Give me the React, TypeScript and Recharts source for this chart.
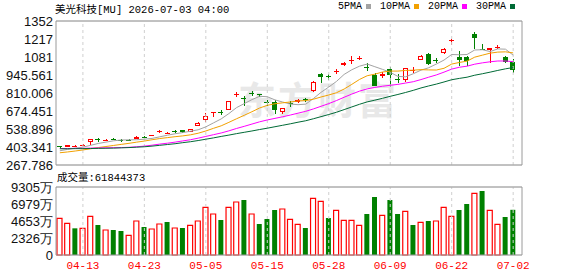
import React from "react";
import {
  ComposedChart,
  Bar,
  Line,
  XAxis,
  YAxis,
  CartesianGrid,
  ReferenceLine,
  Cell,
} from "recharts";

// trading days shown on the chart
const dates = [
  "04-08", "04-09", "04-10", "04-13", "04-14", "04-15", "04-16", "04-17",
  "04-20", "04-21", "04-22", "04-23", "04-24", "04-27", "04-28", "04-29",
  "04-30", "05-01", "05-04", "05-05", "05-06", "05-07", "05-08", "05-11",
  "05-12", "05-13", "05-14", "05-15", "05-18", "05-19", "05-20", "05-21",
  "05-22", "05-26", "05-27", "05-28", "05-29", "06-01", "06-02", "06-03",
  "06-04", "06-05", "06-08", "06-09", "06-10", "06-11", "06-12", "06-15",
  "06-16", "06-17", "06-18", "06-22", "06-23", "06-24", "06-25", "06-26",
  "06-29", "06-30", "07-01", "07-02",
];

const opens = [409, 406, 412, 412, 438, 460, 452, 462, 458, 455, 465, 480, 488, 514, 502, 524, 529, 519, 564, 609, 661, 668, 683, 795, 770, 812, 800, 740, 744, 668, 732, 740, 762, 822, 955, 935, 970, 1022, 1048, 1068, 1008, 946, 940, 988, 912, 910, 978, 1061, 1104, 1062, 1111, 1198, 1082, 1084, 1255, 1145, 1136, 1150, 1084, 1040];
const highs = [412, 418, 418, 426, 465, 471, 464, 473, 466, 462, 486, 486, 495, 530, 514, 530, 533, 542, 590, 657, 667, 682, 752, 820, 787, 825, 805, 760, 758, 697, 750, 765, 775, 900, 963, 953, 990, 1045, 1085, 1090, 1038, 960, 970, 1008, 953, 1000, 1008, 1095, 1112, 1070, 1150, 1214, 1130, 1090, 1268, 1180, 1150, 1168, 1092, 1066];
const lows = [396, 400, 411, 408, 421, 438, 446, 453, 444, 447, 460, 468, 484, 510, 498, 512, 512, 515, 558, 594, 630, 644, 680, 778, 712, 790, 780, 715, 652, 652, 705, 735, 745, 815, 888, 908, 955, 1015, 1030, 1055, 978, 862, 920, 853, 883, 895, 963, 1055, 1020, 1035, 1105, 1171, 1015, 1011, 1142, 1136, 1036, 1140, 1036, 958];
const closes = [404, 416, 414, 420, 462, 456, 458, 456, 447, 451, 480, 476, 491, 526, 511, 521, 516, 539, 582, 637, 665, 662, 748, 800, 765, 808, 795, 735, 684, 694, 727, 760, 757, 893, 930, 928, 976, 1038, 1062, 1071, 1002, 866, 950, 943, 908, 995, 983, 1088, 1026, 1050, 1141, 1212, 1060, 1054, 1224, 1138, 1148, 1158, 1045, 980];

const ma5 = [375, 385, 395, 402, 416, 430, 440, 450, 456, 457, 458, 462, 468, 480, 492, 503, 512, 522, 533, 555, 585, 615, 655, 700, 730, 760, 785, 782, 758, 742, 727, 722, 726, 768, 815, 855, 897, 950, 985, 1012, 1028, 1008, 988, 966, 935, 932, 955, 982, 1000, 1028, 1058, 1100, 1098, 1100, 1134, 1136, 1122, 1142, 1140, 1095];
const ma10 = [360, 366, 373, 381, 390, 399, 407, 415, 423, 431, 440, 448, 458, 467, 474, 481, 487, 495, 507, 524, 544, 563, 589, 616, 642, 669, 697, 717, 729, 736, 742, 750, 753, 763, 780, 795, 812, 840, 875, 912, 940, 952, 968, 975, 975, 980, 982, 986, 984, 983, 996, 1028, 1040, 1050, 1080, 1095, 1110, 1118, 1120, 1112];
const ma20 = [392, 392, 393, 393, 395, 396, 397, 398, 399, 401, 405, 410, 417, 425, 432, 440, 449, 458, 470, 483, 496, 509, 525, 543, 559, 576, 593, 607, 619, 631, 644, 658, 672, 690, 710, 730, 753, 778, 802, 824, 841, 852, 861, 868, 875, 885, 895, 911, 929, 946, 967, 990, 1004, 1012, 1027, 1037, 1045, 1051, 1051, 1046];
const ma30 = [390, 390, 391, 391, 392, 393, 394, 395, 397, 399, 402, 405, 410, 416, 422, 428, 436, 443, 452, 462, 472, 483, 493, 504, 514, 524, 535, 545, 556, 567, 578, 590, 601, 616, 632, 648, 665, 685, 705, 725, 743, 756, 770, 785, 799, 814, 830, 848, 863, 877, 893, 910, 920, 929, 944, 955, 967, 980, 992, 1002];

// volume in 万 shares
const volumes = [5020, 4336, 3650, 3650, 5290, 4104, 3420, 3420, 3283, 2690, 4650, 3830, 3557, 4240, 4514, 3694, 3694, 4058, 4650, 6520, 5610, 4790, 6520, 7250, 7524, 5610, 4240, 4925, 6156, 6293, 4880, 4200, 3694, 7750, 7340, 5060, 6110, 4745, 4745, 4060, 5610, 7934, 5430, 7524, 5610, 5980, 4104, 4470, 4650, 4650, 6520, 5290, 6156, 6977, 8440, 8755, 6110, 4200, 5198, 6184];

const tickDates = ["04-13", "04-23", "05-05", "05-15", "05-28", "06-09", "06-22", "07-02"];
const priceTicks = [267.786, 403.341, 538.896, 674.451, 810.006, 945.561, 1081.116, 1216.671, 1352.226];
const priceTickLabels = ["267.786", "403.341", "538.896", "674.451", "810.006", "945.561", "1081", "1217", "1352"];
const volTicks = [0, 2326.25, 4652.5, 6978.75, 9305];
const volTickLabels = ["0", "2326万", "4653万", "6979万", "9305万"];

const maNames = ["5PMA", "10PMA", "20PMA", "30PMA"];
const maColors = ["#a3a3a3", "#f2a100", "#ff00ff", "#006a36"];

const RED = "#ff0000";
const GREEN = "#008000";
const GRID = "#d4d4d4";
const BORDER = "#9a9a9a";
const W = 578;

const rows = dates.map((date, i) => ({
  date,
  open: opens[i],
  high: highs[i],
  low: lows[i],
  close: closes[i],
  range: [lows[i], highs[i]],
  ma5: ma5[i],
  ma10: ma10[i],
  ma20: ma20[i],
  ma30: ma30[i],
  vol: volumes[i],
  volUp: i === 0 || closes[i] >= closes[i - 1],
}));

const Candle = (props: any) => {
  const { x, y, width, height, payload } = props;
  if (!payload) return null;
  const { open, close, high, low } = payload;
  const up = close >= open;
  const color = up ? RED : GREEN;
  const k = high > low ? height / (high - low) : 0;
  const yO = y + (high - open) * k;
  const yC = y + (high - close) * k;
  let top = Math.round(Math.min(yO, yC));
  let bot = Math.round(Math.max(yO, yC));
  if (bot - top < 1) bot = top + 1;
  const cx = Math.round(x + width / 2) + 0.5;
  const left = Math.round(x);
  const yHi = Math.round(y);
  const yLo = Math.round(y + height);
  if (up) {
    return (
      <g shapeRendering="crispEdges">
        <line x1={cx} x2={cx} y1={yHi} y2={top} stroke={color} />
        <line x1={cx} x2={cx} y1={bot} y2={yLo} stroke={color} />
        {bot - top <= 2 ? (
          <rect x={left} y={top} width={width} height={bot - top} fill={color} />
        ) : (
          <rect x={left + 0.5} y={top + 0.5} width={width - 1} height={bot - top - 1} fill="#fff" stroke={color} />
        )}
      </g>
    );
  }
  return (
    <g shapeRendering="crispEdges">
      <line x1={cx} x2={cx} y1={yHi} y2={yLo} stroke={color} />
      <rect x={left} y={top} width={width} height={bot - top} fill={color} />
    </g>
  );
};

const axisTick = { fontSize: 13, fill: "#111", fontFamily: "Liberation Sans, Arial, sans-serif" };
const textFont = '"Liberation Mono", "Noto Sans CJK SC", monospace';

export default function App() {
  return (
    <div style={{ position: "absolute", left: 0, top: 0, width: W, height: 276, background: "#fff", overflow: "hidden" }}>
      <div style={{ position: "absolute", left: 238, top: 70, fontSize: 38, fontWeight: 700, color: "#e8e8e8", fontFamily: '"Noto Sans CJK SC", sans-serif', letterSpacing: 2 }}>
        东方财富
      </div>
      <div style={{ position: "absolute", left: 55, top: 1, fontSize: 10.5, fontFamily: textFont, color: "#000", whiteSpace: "nowrap" }}>
        美光科技[MU] 2026-07-03 04:00
      </div>
      <div style={{ position: "absolute", left: 338, top: 1, fontSize: 10, fontFamily: textFont, color: "#000", whiteSpace: "nowrap", display: "flex", alignItems: "center" }}>
        {maNames.map((n, i) => (
          <span key={n} style={{ display: "flex", alignItems: "center" }}>
            {n}
            <span style={{ display: "inline-block", width: 5, height: 5, background: maColors[i], marginLeft: 4, marginRight: i < 3 ? 9 : 0 }} />
          </span>
        ))}
      </div>
      <div style={{ position: "absolute", left: 57, top: 169, fontSize: 10.5, fontFamily: textFont, color: "#000", whiteSpace: "nowrap" }}>
        成交量:61844373
      </div>

      <div style={{ position: "absolute", left: 0, top: 0 }}>
        <ComposedChart width={W} height={178} data={rows} margin={{ top: 21, right: 55, bottom: 13, left: 8 }}>
          <CartesianGrid vertical={false} stroke={GRID} />
          <XAxis dataKey="date" hide padding={{ left: 0, right: 5 }} />
          <YAxis
            yAxisId="p"
            domain={[priceTicks[0], priceTicks[8]]}
            ticks={priceTicks}
            allowDataOverflow
            width={48}
            tickSize={0}
            tickMargin={3}
            tickLine={false}
            axisLine={{ stroke: BORDER }}
            tick={axisTick}
            tickFormatter={(v: number, i: number) => priceTickLabels[i]}
            interval={0}
          />
          <YAxis yAxisId="r" orientation="right" width={1} domain={[priceTicks[0], priceTicks[8]]} tick={false} tickLine={false} axisLine={{ stroke: BORDER }} />
          {tickDates.map((d) => (
            <ReferenceLine key={d} yAxisId="p" x={d} stroke="#cfcfcf" strokeDasharray="3 3" />
          ))}
          <ReferenceLine yAxisId="p" y={priceTicks[8]} stroke={BORDER} />
          <ReferenceLine yAxisId="p" y={priceTicks[0]} stroke={BORDER} />
          <Bar yAxisId="p" dataKey="range" barSize={5} shape={<Candle />} isAnimationActive={false} />
          <Line yAxisId="p" type="linear" dataKey="ma5" stroke={maColors[0]} strokeWidth={1} dot={false} isAnimationActive={false} />
          <Line yAxisId="p" type="linear" dataKey="ma10" stroke={maColors[1]} strokeWidth={1} dot={false} isAnimationActive={false} />
          <Line yAxisId="p" type="linear" dataKey="ma20" stroke={maColors[2]} strokeWidth={1} dot={false} isAnimationActive={false} />
          <Line yAxisId="p" type="linear" dataKey="ma30" stroke={maColors[3]} strokeWidth={1} dot={false} isAnimationActive={false} />
        </ComposedChart>
      </div>

      <div style={{ position: "absolute", left: 0, top: 0 }}>
        <ComposedChart width={W} height={276} data={rows} margin={{ top: 187, right: 55, bottom: 0, left: 8 }}>
          <CartesianGrid vertical={false} stroke={GRID} />
          <XAxis
            dataKey="date"
            ticks={tickDates}
            interval={0}
            height={21}
            padding={{ left: 0, right: 5 }}
            tickLine={false}
            tickSize={0}
            tickMargin={6}
            axisLine={{ stroke: BORDER }}
            tick={{ fontSize: 11, fill: RED, fontFamily: '"Liberation Mono", monospace' }}
          />
          <YAxis
            yAxisId="v"
            domain={[0, volTicks[4]]}
            ticks={volTicks}
            width={48}
            tickSize={0}
            tickMargin={3}
            tickLine={false}
            axisLine={{ stroke: BORDER }}
            tick={axisTick}
            tickFormatter={(v: number, i: number) => volTickLabels[i]}
            interval={0}
          />
          <YAxis yAxisId="r" orientation="right" width={1} domain={[0, volTicks[4]]} tick={false} tickLine={false} axisLine={{ stroke: BORDER }} />
          {tickDates.map((d) => (
            <ReferenceLine key={d} yAxisId="v" x={d} stroke="#cfcfcf" strokeDasharray="3 3" />
          ))}
          <ReferenceLine yAxisId="v" y={volTicks[4]} stroke={BORDER} />
          <Bar yAxisId="v" dataKey="vol" barSize={5} isAnimationActive={false}>
            {rows.map((r) => (
              <Cell
                key={r.date}
                fill={r.volUp ? "#fff" : GREEN}
                stroke={r.volUp ? RED : GREEN}
                strokeWidth={r.volUp ? 1.2 : 0}
              />
            ))}
          </Bar>
        </ComposedChart>
      </div>
    </div>
  );
}
